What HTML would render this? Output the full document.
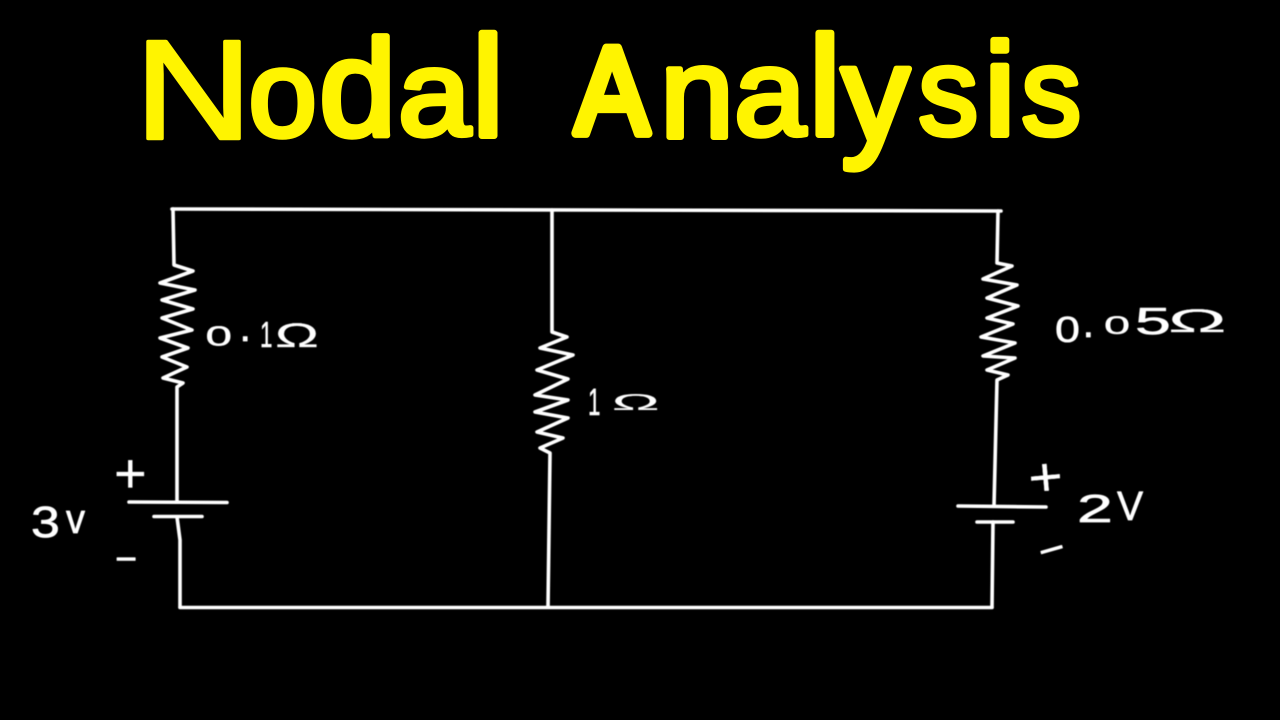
<!DOCTYPE html>
<html>
<head>
<meta charset="utf-8">
<style>
html,body{margin:0;padding:0;background:#000;width:1280px;height:720px;overflow:hidden}
svg{display:block}
.t text{font-family:"Liberation Sans",sans-serif;font-size:100px;fill:#fff400;stroke:#fff400;stroke-width:4.5;stroke-linejoin:round;stroke-linecap:round}
.l text{font-family:"Liberation Sans",sans-serif;font-size:28px;fill:#fff;stroke:#fff;stroke-width:.45;stroke-linejoin:round}
.l text.o{stroke-width:.15}
</style>
</head>
<body>
<svg width="1280" height="720" viewBox="0 0 1280 720" xmlns="http://www.w3.org/2000/svg">
<defs><filter id="b" x="-5%" y="-5%" width="110%" height="110%"><feGaussianBlur stdDeviation="0.5"/></filter></defs>
<rect width="1280" height="720" fill="#000"/>
<g class="t">
<text style="stroke-width:2.5" transform="matrix(1.62 0 0 1.41 135 138.5)">N</text>
<text transform="matrix(1.221 0 0 1.227 248.7 135.8)">o</text>
<text transform="matrix(1.377 0 0 1.368 319.4 135.3)">d</text>
<text transform="matrix(1.3 0 0 1.21 398.2 134.8)">a</text>
<text transform="matrix(1.429 0 0 1.419 472.1 135.8)">l</text>
<text style="stroke-width:7.5" transform="matrix(1.1 0 0 1.239 575.2 133.4)">A</text>
<text transform="matrix(1.322 0 0 1.287 660.2 137.1)">n</text>
<text transform="matrix(1.281 0 0 1.227 734.3 134.8)">a</text>
<text transform="matrix(1.429 0 0 1.406 809 134.8)">l</text>
<text transform="matrix(1.356 0 0 1.37 841.5 141.1)">y</text>
<text transform="matrix(1.192 0 0 1.244 918.5 134.7)">s</text>
<text transform="matrix(1.429 0 0 1.314 984 135)">i</text>
<text transform="matrix(1.192 0 0 1.244 1021.5 134.7)">s</text>
</g>
<g filter="url(#b)">
<g fill="none" stroke="#fff" stroke-width="3.6" stroke-linecap="round" stroke-linejoin="round">
<path d="M172 209 L1001 211"/>
<path d="M180 607.5 L992 607.5"/>
<path d="M173 209 L174 265 L193 271 L160 283 L195 290 L162 300 L193 309 L162 318 L192 330 L160 338 L188 348 L162 357 L187 367 L163 378 L183 383 L177 387 L177 502"/>
<path d="M129 502 L227 502.5"/>
<path d="M154 516.5 L202 516.5"/>
<path d="M177 517 L180 540 L180 607"/>
<path d="M552 210 L552 332 L567 337 L540 348 L573 355 L537 370 L568 379 L535 395 L568 400 L535 412 L568 418 L537 432 L563 438 L540 448 L550 453 L548 607"/>
<path d="M998 211 L997 263 L1012 266 L983 279 L1017 285 L987 298 L1018 306 L987 318 L1013 324 L981 337 L1015 343 L983 356 L1015 358 L987 370 L1008 375 L997 380 L994 506"/>
<path d="M958 506 L1046 507"/>
<path d="M977 522 L1013 522"/>
<path d="M993 522 L992 607"/>
</g>
<g class="l">
<text transform="translate(205.5 345.5) scale(1.7 1)">0</text>
<text transform="translate(239.4 341) scale(1.5)">.</text>
<text transform="translate(260 347) scale(.8 1.3)">1</text>
<text class="o" transform="translate(275 347) scale(2.1 1.22)">Ω</text>
<text transform="translate(588 415) scale(.8 1.35)">1</text>
<text class="o" transform="translate(611.8 410) scale(2.29 .82)">Ω</text>
<text transform="translate(1055 342) scale(1.6 1.3)">0</text>
<text transform="translate(1082.5 337) scale(1.5)">.</text>
<text transform="translate(1104 334) scale(1.67 .9)">0</text>
<text transform="translate(1135 334) scale(2.3 1.35)">5</text>
<text class="o" transform="translate(1168 332) scale(2.8 1.17)">Ω</text>
<text transform="translate(31 537) scale(1.85 1.55)">3</text>
<text transform="translate(66 533) scale(1.36 1.5)">v</text>
<text transform="translate(1077 522) scale(2.3 1.4)">2</text>
<text transform="translate(1117 520) scale(1.4 1.45)">V</text>
<text class="o" transform="translate(114 492.4) scale(2 2)">+</text>
<text class="o" transform="translate(1030 497) rotate(-5) scale(2.1 1.95)">+</text>
<text transform="translate(114 568.5) scale(2.6 1.3)">-</text>
<text transform="translate(1051.5 549) rotate(-16) scale(3.1 1.3) translate(-4.7 7.9)">-</text>
</g>
</g>
</svg>
</body>
</html>
